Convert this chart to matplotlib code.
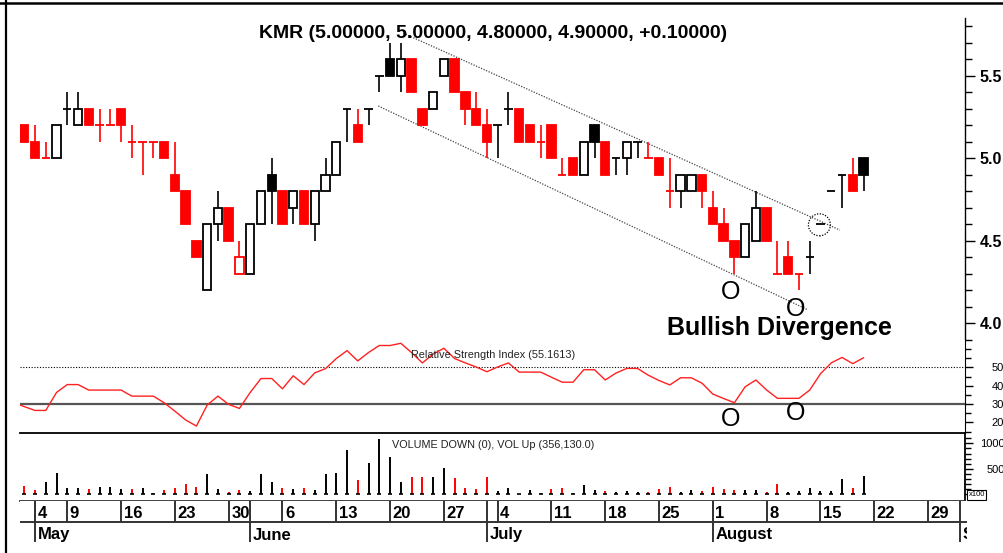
import numpy as np
import pandas as pd
import matplotlib
matplotlib.use("Agg")
import matplotlib.pyplot as plt
from matplotlib.patches import Rectangle, Ellipse
from matplotlib.lines import Line2D

plt.rcParams['font.family'] = ['Liberation Sans', 'DejaVu Sans']

# ---------------- data ----------------
ticker = "KMR"
first_day, last_day = "2011-05-03", "2011-08-19"
prev_close = 5.2

opens = [5.2, 5.1, 5.0, 5.0, 5.3, 5.2, 5.3, 5.2, 5.2, 5.3,
         5.1, 5.1, 5.1, 5.1, 4.9, 4.8, 4.5, 4.2, 4.6, 4.7,
         4.3, 4.3, 4.6, 4.9, 4.8, 4.7, 4.8, 4.6, 4.8, 4.9,
         5.3, 5.2, 5.3, 5.5, 5.6, 5.5, 5.6, 5.3, 5.3, 5.5,
         5.6, 5.4, 5.3, 5.2, 5.2, 5.3, 5.3, 5.2, 5.1, 5.2,
         4.9, 5.0, 4.9, 5.2, 5.1, 5.0, 5.0, 5.1, 5.0, 5.0,
         4.8, 4.8, 4.8, 4.9, 4.7, 4.6, 4.5, 4.4, 4.5, 4.7,
         4.3, 4.4, 4.3, 4.4, 4.6, 4.8, 4.9, 4.9, 5.0]
highs = [5.2, 5.2, 5.1, 5.2, 5.4, 5.4, 5.3, 5.3, 5.3, 5.3,
         5.2, 5.1, 5.1, 5.1, 5.1, 4.8, 4.5, 4.6, 4.8, 4.7,
         4.5, 4.6, 4.8, 5.0, 4.8, 4.8, 4.8, 4.8, 5.0, 5.1,
         5.3, 5.3, 5.3, 5.5, 5.7, 5.7, 5.6, 5.3, 5.4, 5.6,
         5.6, 5.4, 5.4, 5.3, 5.2, 5.4, 5.3, 5.2, 5.2, 5.2,
         5.0, 5.0, 5.1, 5.2, 5.1, 5.0, 5.1, 5.1, 5.1, 5.0,
         5.0, 4.9, 4.9, 4.9, 4.8, 4.7, 4.5, 4.6, 4.8, 4.7,
         4.5, 4.5, 4.3, 4.5, 4.6, 4.8, 4.9, 5.0, 5.0]
lows = [5.1, 5.0, 5.0, 5.0, 5.2, 5.2, 5.2, 5.1, 5.2, 5.1,
        5.0, 4.9, 5.0, 5.0, 4.8, 4.6, 4.4, 4.2, 4.5, 4.5,
        4.3, 4.3, 4.6, 4.6, 4.6, 4.6, 4.6, 4.5, 4.8, 4.9,
        5.1, 5.1, 5.2, 5.4, 5.5, 5.4, 5.4, 5.2, 5.3, 5.5,
        5.4, 5.2, 5.2, 5.0, 5.0, 5.2, 5.1, 5.1, 5.0, 5.0,
        4.9, 4.9, 4.9, 5.0, 4.9, 4.9, 4.9, 5.0, 5.0, 4.9,
        4.7, 4.7, 4.8, 4.7, 4.6, 4.5, 4.3, 4.4, 4.5, 4.5,
        4.3, 4.3, 4.2, 4.3, 4.6, 4.8, 4.7, 4.8, 4.8]
closes = [5.1, 5.0, 5.0, 5.2, 5.3, 5.3, 5.2, 5.2, 5.2, 5.2,
          5.1, 5.1, 5.1, 5.0, 4.8, 4.6, 4.4, 4.6, 4.7, 4.5,
          4.4, 4.6, 4.8, 4.8, 4.6, 4.8, 4.6, 4.8, 4.9, 5.1,
          5.3, 5.1, 5.3, 5.5, 5.5, 5.6, 5.4, 5.2, 5.4, 5.6,
          5.4, 5.3, 5.2, 5.1, 5.2, 5.3, 5.1, 5.1, 5.1, 5.0,
          4.9, 4.9, 5.1, 5.1, 4.9, 5.0, 5.1, 5.1, 5.0, 4.9,
          4.8, 4.9, 4.9, 4.8, 4.6, 4.5, 4.4, 4.6, 4.7, 4.5,
          4.3, 4.3, 4.3, 4.4, 4.6, 4.8, 4.9, 4.8, 4.9]
volumes = [1620, 840, 2400, 4150, 1170, 1170, 970, 1430, 1430, 970,
           970, 1300, 320, 780, 1300, 2010, 1430, 3960, 970, 450,
           780, 650, 3960, 2400, 1170, 970, 1170, 840, 3960, 4150,
           8625, 2790, 6160, 10830, 7330, 2400, 3300, 3300, 3440, 5250,
           3110, 1170, 970, 3300, 580, 1170, 130, 780, 200, 970,
           1300, 200, 1820, 840, 650, 450, 650, 520, 520, 970,
           1490, 450, 840, 650, 1490, 970, 840, 840, 840, 450,
           2010, 450, 650, 1170, 650, 650, 2920, 1300, 3561]   # x100

rsi_first_day = "2011-05-02"
rsi = [30.7, 28.6, 26.5, 26.5, 36.3, 40.6, 40.6, 37.6, 37.6, 37.6,
       37.6, 34.3, 34.3, 34.3, 30.7, 26.1, 21.3, 18.0, 29.4, 34.3,
       29.8, 27.6, 36.3, 43.9, 43.9, 38.3, 45.4, 40.6, 47.0, 49.3,
       54.8, 59.1, 53.5, 58.1, 61.9, 61.9, 63.1, 58.0, 52.4, 57.2,
       60.4, 54.8, 52.4, 50.2, 47.6, 50.2, 52.4, 47.4, 47.4, 47.4,
       44.6, 41.9, 41.9, 48.7, 48.7, 43.1, 46.9, 49.4, 49.4, 45.7,
       42.8, 40.4, 44.3, 44.3, 41.3, 35.4, 33.0, 30.7, 39.4, 43.1,
       37.6, 33.1, 33.1, 33.1, 37.6, 46.5, 52.4, 55.4, 52.0, 55.2]
rsi_last = 55.1613
vol_up_text = "356,130.0"

week_days = ["2011-05-04", "2011-05-09", "2011-05-16", "2011-05-23", "2011-05-30",
             "2011-06-06", "2011-06-13", "2011-06-20", "2011-06-27", "2011-07-04",
             "2011-07-11", "2011-07-18", "2011-07-25", "2011-08-01", "2011-08-08",
             "2011-08-15", "2011-08-22", "2011-08-29"]
week_labels = ["4", "9", "16", "23", "30", "6", "13", "20", "27", "4",
               "11", "18", "25", "1", "8", "15", "22", "29"]
month_days = ["2011-05-04", "2011-06-01", "2011-07-01", "2011-08-01", "2011-09-01"]
month_labels = ["May", "June", "July", "August", "September"]

# annotations (weekday offset from 2011-05-04, value)
channel_upper = ([34.23, 74.81], [5.758, 4.565])
channel_lower = ([31.90, 71.72], [5.317, 4.085])
breakout_circle = (72.9, 4.597)
price_marks = ([64.68, 70.70], [4.148, 4.043])
rsi_marks = ([64.68, 70.70], [17.8, 21.4])
note_text = "Bullish Divergence"
note_pos = (69.2, 3.929)

# ---------------- layout ----------------
W, H = 1004, 553
X0, DX = 35.0, 10.76          # pixel of 2011-05-04, pixels per weekday
fig = plt.figure(figsize=(W / 100, H / 100), dpi=100)


def add_ax(l, t, r, b):
    ax = fig.add_axes([l / W, 1 - b / H, (r - l) / W, (b - t) / H])
    ax.set_xlim((l - X0) / DX, (r - X0) / DX)
    for s in ax.spines.values():
        s.set_visible(False)
    ax.set_xticks([])
    return ax


def xi(days):
    return np.busday_count("2011-05-04", np.asarray(days, dtype="datetime64[D]"))


days = pd.bdate_range(first_day, last_day).values.astype("datetime64[D]")
x = xi(days)
o, h, l, c = map(np.asarray, (opens, highs, lows, closes))
prev = np.concatenate([[prev_close], c[:-1]])

# candle colours: by close vs previous close, unchanged keeps colour
ccol = []
last = 'red'
for ci, pi in zip(c, prev):
    if ci > pi + 1e-9:
        last = 'black'
    elif ci < pi - 1e-9:
        last = 'red'
    ccol.append(last)
vcol = ['black' if ci >= pi - 1e-9 else 'red' for ci, pi in zip(c, prev)]

# ---- price panel ----
axp = add_ax(20, 18, 965, 340)
axp.set_ylim(3.899, 5.850)
axp.spines['right'].set_visible(True)
axp.spines['right'].set_linewidth(1.0)
bw = 0.78
for xi_, oi, hi, li, ci, col in zip(x, o, h, l, c, ccol):
    axp.vlines(xi_, li, hi, color=col, lw=1.2, zorder=2)
    if abs(ci - oi) < 1e-9:
        axp.hlines(ci, xi_ - bw / 2, xi_ + bw / 2, color=col, lw=1.3, zorder=3)
    else:
        filled = ci < oi
        axp.add_patch(Rectangle((xi_ - bw / 2, min(oi, ci)), bw, abs(ci - oi),
                                facecolor=col if filled else 'white',
                                edgecolor=col, lw=1.3, zorder=3))
axp.plot(*channel_upper, color='#444444', lw=0.9, ls=(0, (1, 1.2)), zorder=1)
axp.plot(*channel_lower, color='#444444', lw=0.9, ls=(0, (1, 1.2)), zorder=1)
axp.add_patch(Ellipse(breakout_circle, 22 / DX, 22 / 165.0, fill=False,
                      ec='black', lw=0.9, ls=(0, (1, 1.2)), zorder=4))
for mx, my in zip(*price_marks):
    axp.text(mx, my, "O", fontsize=18, ha='center', va='baseline')
axp.text(*note_pos, note_text, fontsize=18, fontweight='bold',
         ha='center', va='baseline')
axp.yaxis.tick_right()
axp.set_yticks([4.0, 4.5, 5.0, 5.5])
axp.set_yticklabels(["4.0", "4.5", "5.0", "5.5"], fontweight='bold', fontsize=11.5)
axp.set_yticks(np.arange(3.9, 5.86, 0.1), minor=True)
axp.tick_params(axis='y', which='major', length=7, width=1, pad=3.5)
axp.tick_params(axis='y', which='minor', length=5, width=1)

# ---- RSI panel ----
axr = add_ax(20, 340, 965, 433)
axr.set_ylim(14.2, 64.9)
axr.spines['right'].set_visible(True)
xr = xi(pd.bdate_range(rsi_first_day, last_day).values.astype("datetime64[D]"))
axr.axhline(50, color='black', lw=0.8, ls=(0, (1, 1.5)))
axr.axhline(30, color='#555555', lw=1.6)
axr.plot(xr, rsi, color='#ff2020', lw=1.0, zorder=3)
for mx, my in zip(*rsi_marks):
    axr.text(mx, my, "O", fontsize=18, ha='center', va='baseline')
axr.yaxis.tick_right()
axr.set_yticks([20, 30, 40, 50])
axr.set_yticklabels(["20", "30", "40", "50"], fontsize=8)
axr.set_yticks(np.arange(15, 65, 5), minor=True)
axr.tick_params(axis='y', which='major', length=6, width=1, pad=13)
axr.tick_params(axis='y', which='minor', length=4, width=1)

# ---- volume panel ----
axv = add_ax(20, 433, 965, 501)
axv.set_ylim(-1314, 12020)
for s in ('right', 'top', 'bottom'):
    axv.spines[s].set_visible(True)
    axv.spines[s].set_linewidth(1.3)
axv.spines['bottom'].set_color('#333333')
axv.vlines(x, 0, volumes, colors=vcol, lw=1.4)
axv.plot(x, np.zeros_like(x), ls='none', marker='_', ms=3, mew=1.2, color='black')
axv.yaxis.tick_right()
axv.set_yticks([0, 5000, 10000])
axv.set_yticklabels(["0", "5000", "10000"], fontsize=8)
for lab in axv.get_yticklabels():
    lab.set_horizontalalignment('right')
axv.set_yticks(np.arange(0, 12000, 1000), minor=True)
axv.tick_params(axis='y', which='major', length=6, width=1, pad=27)
axv.tick_params(axis='y', which='minor', length=4, width=1)
fig.text(968.5 / W, 1 - 495 / H, "x100", fontsize=5.5, ha='left', va='center',
         bbox=dict(boxstyle='square,pad=0.2', fc='white', ec='black', lw=0.8))

# ---- date axis ----
axd = add_ax(20, 501, 967, 545)
axd.set_ylim(44, 0)
axd.set_yticks([])
axd.axhline(21, color='#333333', lw=1.4)
wx = xi(week_days)
mx_ = xi(month_days)
axd.vlines(wx, 0, 21, color='#333333', lw=1.4)
axd.vlines(mx_, 0, 41, color='#333333', lw=1.4)
for px, lab in zip(wx, week_labels):
    axd.text(px + 2.5 / DX, 17, lab, fontsize=12, fontweight='bold',
             ha='left', va='baseline', clip_on=True)
for px, lab in zip(mx_, month_labels):
    axd.text(px + 2.5 / DX, 38.5, lab, fontsize=12, fontweight='bold',
             ha='left', va='baseline', clip_on=True)

# ---- texts and frame ----
fig.text(493.5 / W, 1 - 38.5 / H,
         f"{ticker} ({opens[-1]:.5f}, {highs[-1]:.5f}, {lows[-1]:.5f}, {closes[-1]:.5f}, "
         f"{closes[-1] - closes[-2]:+.5f})",
         fontsize=14, fontweight='bold', ha='center', va='baseline')
fig.text(411 / W, 1 - 358.5 / H, f"Relative Strength Index ({rsi_last:.4f})",
         fontsize=7.8, color='#222222', ha='left', va='baseline')
fig.text(392.5 / W, 1 - 448 / H, f"VOLUME DOWN (0), VOL Up ({vol_up_text})",
         fontsize=7.8, color='#222222', ha='left', va='baseline')
fig.add_artist(Line2D([0, 1], [1 - 2.8 / H] * 2, color='black', lw=1.8,
                      transform=fig.transFigure))
fig.add_artist(Line2D([5.8 / W] * 2, [0, 1], color='black', lw=1.6,
                      transform=fig.transFigure))

fig.savefig("out.png", dpi=100)
